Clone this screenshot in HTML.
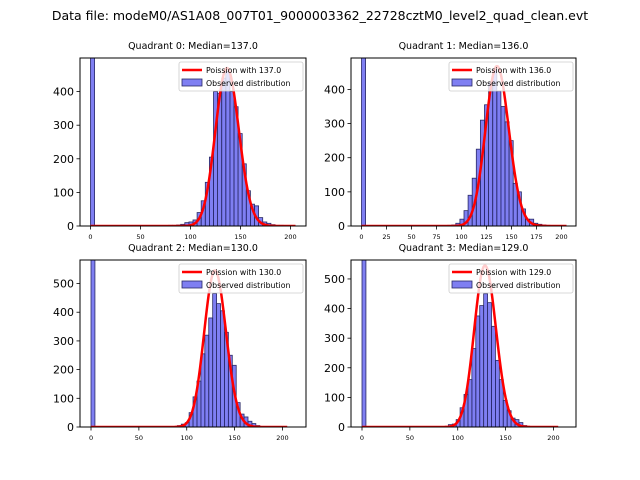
<!DOCTYPE html>
<html><head><meta charset="utf-8">
<style>
html,body{margin:0;padding:0;background:#fff;}
svg{display:block;font-family:"DejaVu Sans","Liberation Sans",sans-serif;}
</style></head>
<body>
<svg id="chart" width="640" height="480" viewBox="0 0 640 480">
<rect width="640" height="480" fill="#fff"/>
<text x="320" y="20" font-size="12.5" text-anchor="middle">Data file: modeM0/AS1A08_007T01_9000003362_22728cztM0_level2_quad_clean.evt</text>
</svg>
<script>
// ---- data ----
const quadrantNames = ["Quadrant 0","Quadrant 1","Quadrant 2","Quadrant 3"];
const medians = [137.0, 136.0, 130.0, 129.0];
const binWidth = 4.1;
const zeroBinCount = [1500, 1500, 1500, 1500];
const q0Counts = [2,2,3,5,10,12,18,40,75,130,205,400,395,440,460,400,355,275,185,105,65,60,25,12,8,4,2,2,1,1];
const q1Counts = [1,1,2,3,8,20,45,90,140,225,310,355,420,460,395,350,305,250,125,100,50,20,20,8,5,3,2,1,1,1];
const q2Counts = [1,1,2,5,10,15,50,105,160,255,320,380,465,430,405,330,250,215,85,45,35,20,12,5,2,1,1,1,1,1];
const q3Counts = [1,1,2,8,10,25,65,110,160,265,375,410,450,420,340,225,160,90,55,30,25,15,5,2,1,1,1,1,1,1];
const countsStartBin = [19,19,19,19];
const curvePeaks = [470, 468, 545, 545];
const yTicks0 = [0,100,200,300,400];
const yTicks2 = [0,100,200,300,400,500];
const xTicksA = [0,50,100,150,200];
const xTicksB = [0,25,50,75,100,125,150,175,200];

// ---- layout ----
const allCounts=[q0Counts,q1Counts,q2Counts,q3Counts];
const panels=[
 {x:80,y:58,w:226,h:168,xmin:-10.5,xmax:215.5,ymax:500,yt:yTicks0,xt:xTicksA},
 {x:351,y:58,w:225,h:168,xmin:-10.5,xmax:214.5,ymax:492,yt:yTicks0,xt:xTicksB},
 {x:80,y:260,w:226,h:167,xmin:-11.5,xmax:224.6,ymax:582,yt:yTicks2,xt:xTicksA},
 {x:351,y:260,w:225,h:167,xmin:-11.5,xmax:223.6,ymax:564,yt:yTicks2,xt:xTicksA}
];
const svg=document.getElementById('chart');
const NS='http://www.w3.org/2000/svg';
function mk(tag,attrs,parent){const e=document.createElementNS(NS,tag);for(const k in attrs)e.setAttribute(k,attrs[k]);(parent||svg).appendChild(e);return e;}
function lgamma(z){let x=z,s=0;while(x<7){s-=Math.log(x);x+=1;}return s+(x-0.5)*Math.log(x)-x+0.5*Math.log(2*Math.PI)+1/(12*x)-1/(360*x*x*x);}
function poisson(k,m){return Math.exp(k*Math.log(m)-m-lgamma(k+1));}

panels.forEach((p,i)=>{
 const g=mk('g',{});
 
 
 const sx=v=>p.x+(v-p.xmin)/(p.xmax-p.xmin)*p.w;
 const sy=v=>p.y+p.h-Math.min(v,p.ymax*1.1)/p.ymax*p.h;
 const clip=mk('clipPath',{id:'c'+i},g);
 mk('rect',{x:p.x,y:p.y,width:p.w,height:p.h},clip);
 const bars=mk('g',{'clip-path':'url(#c'+i+')'},g);
 const drawBar=(b,c)=>{
  const x0=sx(b*binWidth),x1=sx((b+1)*binWidth);
  const r=mk('rect',{x:x0,y:sy(c),width:x1-x0,height:sy(0)-sy(c),fill:'rgba(0,0,230,0.5)',stroke:'#2a2a66','stroke-width':0.8},bars);
  
  
 };
 drawBar(0,zeroBinCount[i]);
 allCounts[i].forEach((c,j)=>drawBar(countsStartBin[i]+j,c));
 const m=medians[i],norm=curvePeaks[i]/poisson(Math.floor(m),m);
 let d='';
 for(let k=0;k<=205;k++){d+=(k?'L':'M')+sx(k).toFixed(2)+','+sy(poisson(k,m)*norm).toFixed(2);}
 const pl=mk('path',{d:d,fill:'none',stroke:'#ff0000','stroke-width':2.5,'clip-path':'url(#c'+i+')'},g);
 
 
 mk('rect',{x:p.x,y:p.y,width:p.w,height:p.h,fill:'none',stroke:'#000','stroke-width':1},g);
 p.yt.forEach(v=>{
  const y=sy(v);
  mk('line',{x1:p.x-3.5,x2:p.x,y1:y,y2:y,stroke:'#000','stroke-width':0.8},g);
  const t=mk('text',{x:p.x-6,y:y+4,'font-size':11,'text-anchor':'end'},g);
  t.textContent=v;
  
  
 });
 p.xt.forEach(v=>{
  const x=sx(v);
  mk('line',{x1:x,x2:x,y1:p.y+p.h,y2:p.y+p.h+3.5,stroke:'#000','stroke-width':0.8},g);
  const t=mk('text',{x:x,y:p.y+p.h+13,'font-size':6.5,'text-anchor':'middle'},g);
  t.textContent=v;
  
  
 });
 const tt=mk('text',{x:p.x+p.w/2,y:p.y-9,'font-size':9.5,'text-anchor':'middle'},g);
 tt.textContent=quadrantNames[i]+': Median='+medians[i].toFixed(1);
 
 
 const lg=mk('g',{},g);
 
 
 const lx=p.x+p.w-127,ly=p.y+4;
 mk('rect',{x:lx,y:ly,width:124,height:29,fill:'rgba(255,255,255,0.8)',stroke:'#ccc','stroke-width':0.8,rx:2},lg);
 mk('line',{x1:lx+3,x2:lx+23,y1:ly+8,y2:ly+8,stroke:'#f00','stroke-width':2.5},lg);
 const t1=mk('text',{x:lx+27,y:ly+11,'font-size':7.8},lg);
 t1.textContent='Poission with '+medians[i].toFixed(1);
 mk('rect',{x:lx+3,y:ly+17,width:20,height:7,fill:'rgba(0,0,230,0.5)',stroke:'#2a2a66','stroke-width':0.8},lg);
 const t2=mk('text',{x:lx+27,y:ly+24,'font-size':7.8},lg);
 t2.textContent='Observed distribution';
});
</script>
</body></html>
